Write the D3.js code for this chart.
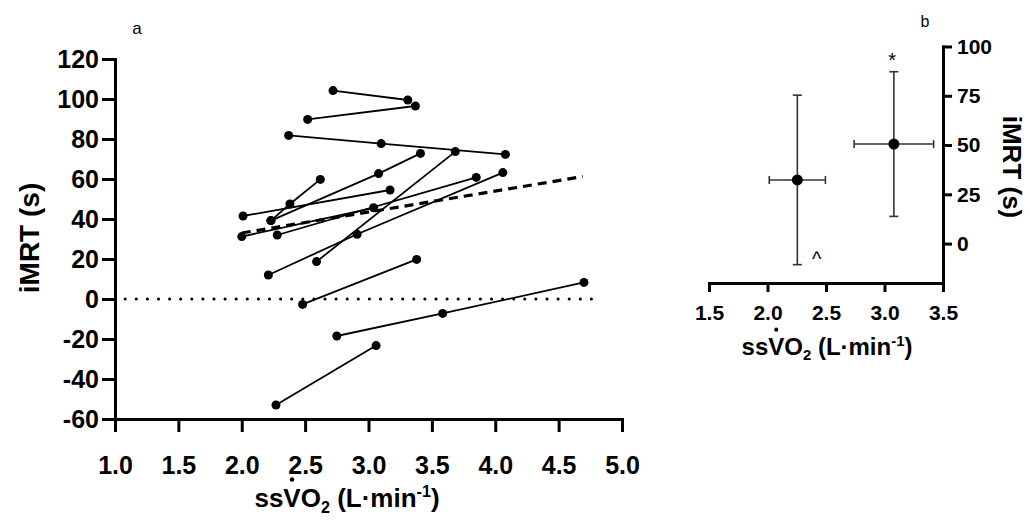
<!DOCTYPE html>
<html>
<head>
<meta charset="utf-8">
<script src="https://cdn.jsdelivr.net/npm/d3@7"></script>
<style>
  html, body { margin: 0; padding: 0; background: #fff; }
  svg { display: block; }
  text { font-family: "Liberation Sans", Arial, sans-serif; }
</style>
</head>
<body>
<script>
// ---------- Panel a: individual subjects (ssVO2 vs iMRT) ----------
const subjectVO2 = [
  [2.72, 3.31],
  [2.52, 3.37],
  [2.37, 3.10, 4.08],
  [2.59, 3.685],
  [2.01, 3.17],
  [2.23, 3.08, 3.41],
  [2.00, 3.04],
  [2.23, 2.38, 2.62],
  [2.28, 3.85],
  [2.21, 2.91, 4.06],
  [2.48, 3.38],
  [2.75, 3.585, 4.70],
  [2.27, 3.06]
];
const subjectIMRT = [
  [104.2, 99.5],
  [89.8, 96.5],
  [81.8, 77.7, 72.3],
  [18.7, 73.7],
  [41.5, 54.5],
  [39.2, 62.7, 72.8],
  [31.2, 45.6],
  [39.2, 47.5, 59.8],
  [32.0, 60.8],
  [12.0, 32.4, 63.2],
  [-2.7, 19.8],
  [-18.5, -7.2, 8.3],
  [-53.0, -23.3]
];
const regressionVO2 = [2.0, 4.69];
const regressionIMRT = [33.0, 61.2];
const zeroLineVO2 = [1.08, 4.78];
const xTicksA = [1.0, 1.5, 2.0, 2.5, 3.0, 3.5, 4.0, 4.5, 5.0];
const yTicksA = [-60, -40, -20, 0, 20, 40, 60, 80, 100, 120];

// ---------- Panel b: group mean ± SD ----------
const groupVO2 = [2.255, 3.08];
const groupVO2SD = [0.24, 0.34];
const groupIMRT = [32.3, 50.5];
const groupIMRTSD = [43.0, 36.7];
const markerSymbols = ["^", "*"];
const markerVO2 = [2.42, 3.065];
const markerIMRT = [-8, 93];
const xTicksB = [1.5, 2.0, 2.5, 3.0, 3.5];
const yTicksB = [0, 25, 50, 75, 100];

const W = 1030, H = 521;
const FONT = '"Liberation Sans", Arial, sans-serif';
const svg = d3.select("body").append("svg").attr("width", W).attr("height", H);
svg.append("rect").attr("width", W).attr("height", H).attr("fill", "#fff");

function styleAxis(g, fs) {
  g.select(".domain").attr("stroke", "#000").attr("stroke-width", 3).attr("stroke-linecap", "square");
  g.selectAll(".tick line").attr("stroke", "#000").attr("stroke-width", 3);
  g.selectAll(".tick text").attr("fill", "#000").attr("font-family", FONT)
    .attr("font-weight", "bold").attr("font-size", fs);
}
const intFmt = d => String(d);

// ===== Panel a =====
const xA = d3.scaleLinear().domain([1, 5]).range([115, 622]);
const yA = d3.scaleLinear().domain([-60, 120]).range([419, 59]);

const gxA = svg.append("g").attr("transform", `translate(0,${yA(-60)})`)
  .call(d3.axisBottom(xA).tickValues(xTicksA).tickFormat(d3.format(".1f"))
    .tickSize(13).tickSizeOuter(0).tickPadding(24));
styleAxis(gxA, 25);
const gyA = svg.append("g").attr("transform", `translate(${xA(1)},0)`)
  .call(d3.axisLeft(yA).tickValues(yTicksA).tickFormat(intFmt)
    .tickSize(13).tickSizeOuter(0).tickPadding(3));
styleAxis(gyA, 25);

// zero dotted line
svg.append("line")
  .attr("x1", xA(zeroLineVO2[0])).attr("x2", xA(zeroLineVO2[1]))
  .attr("y1", yA(0)).attr("y2", yA(0))
  .attr("stroke", "#000").attr("stroke-width", 3)
  .attr("stroke-dasharray", "0.1,11").attr("stroke-linecap", "round");

// regression dashed line
svg.append("line")
  .attr("x1", xA(regressionVO2[0])).attr("x2", xA(regressionVO2[1]))
  .attr("y1", yA(regressionIMRT[0])).attr("y2", yA(regressionIMRT[1]))
  .attr("stroke", "#000").attr("stroke-width", 3.2)
  .attr("stroke-dasharray", "9,6");

const lineGen = d3.line().x(d => xA(d[0])).y(d => yA(d[1]));
const subjects = subjectVO2.map((xs, i) => xs.map((x, j) => [x, subjectIMRT[i][j]]));
const gSub = svg.append("g");
gSub.selectAll("path").data(subjects).join("path")
  .attr("d", lineGen).attr("fill", "none").attr("stroke", "#000").attr("stroke-width", 1.8);
gSub.selectAll("circle").data(subjects.flat()).join("circle")
  .attr("cx", d => xA(d[0])).attr("cy", d => yA(d[1])).attr("r", 4.5).attr("fill", "#000");

// axis titles panel a
svg.append("text").attr("transform", "translate(29,238) rotate(-90)")
  .attr("text-anchor", "middle").attr("dominant-baseline", "central")
  .attr("font-family", FONT).attr("font-weight", "bold").attr("font-size", 28)
  .text("iMRT (s)");

function vo2Title(cx, baseline, fs) {
  const t = svg.append("text").attr("x", cx).attr("y", baseline)
    .attr("text-anchor", "middle").attr("font-family", FONT)
    .attr("font-weight", "bold").attr("font-size", fs).attr("fill", "#000");
  t.append("tspan").text("ssVO");
  t.append("tspan").attr("font-size", fs * 0.62).attr("dy", fs * 0.22).text("2");
  t.append("tspan").attr("dy", -fs * 0.22).text(" (L·min");
  t.append("tspan").attr("font-size", fs * 0.62).attr("dy", -fs * 0.38).text("-1");
  t.append("tspan").attr("dy", fs * 0.38).text(")");
  const ext = t.node().getExtentOfChar(2);
  svg.append("circle").attr("cx", ext.x + ext.width / 2)
    .attr("cy", baseline - fs * 0.716 - fs * 0.34).attr("r", fs * 0.085).attr("fill", "#000");
}
vo2Title(347, 507, 26);

svg.append("text").attr("x", 137).attr("y", 28).attr("text-anchor", "middle")
  .attr("dominant-baseline", "central").attr("font-family", FONT).attr("font-size", 17).text("a");

// ===== Panel b =====
const xB = d3.scaleLinear().domain([1.5, 3.5]).range([709, 943]);
const yB = d3.scaleLinear().domain([-20, 100]).range([283, 46.5]);

const gxB = svg.append("g").attr("transform", `translate(0,${yB(-20)})`)
  .call(d3.axisBottom(xB).tickValues(xTicksB).tickFormat(d3.format(".1f"))
    .tickSize(9).tickSizeOuter(0).tickPadding(13));
styleAxis(gxB, 21);
const gyB = svg.append("g").attr("transform", `translate(${xB(3.5)},0)`)
  .call(d3.axisRight(yB).tickValues(yTicksB).tickFormat(intFmt)
    .tickSize(9).tickSizeOuter(0).tickPadding(5));
styleAxis(gyB, 21);

const groups = groupVO2.map((x, i) => ({ x, y: groupIMRT[i], sx: groupVO2SD[i], sy: groupIMRTSD[i] }));
const gG = svg.append("g").attr("stroke", "#333").attr("stroke-width", 1.6).attr("fill", "none");
groups.forEach(d => {
  gG.append("line").attr("x1", xB(d.x)).attr("x2", xB(d.x)).attr("y1", yB(d.y - d.sy)).attr("y2", yB(d.y + d.sy));
  gG.append("line").attr("x1", xB(d.x) - 4.5).attr("x2", xB(d.x) + 4.5).attr("y1", yB(d.y + d.sy)).attr("y2", yB(d.y + d.sy));
  gG.append("line").attr("x1", xB(d.x) - 4.5).attr("x2", xB(d.x) + 4.5).attr("y1", yB(d.y - d.sy)).attr("y2", yB(d.y - d.sy));
  gG.append("line").attr("x1", xB(d.x - d.sx)).attr("x2", xB(d.x + d.sx)).attr("y1", yB(d.y)).attr("y2", yB(d.y));
  gG.append("line").attr("x1", xB(d.x - d.sx)).attr("x2", xB(d.x - d.sx)).attr("y1", yB(d.y) - 4).attr("y2", yB(d.y) + 4);
  gG.append("line").attr("x1", xB(d.x + d.sx)).attr("x2", xB(d.x + d.sx)).attr("y1", yB(d.y) - 4).attr("y2", yB(d.y) + 4);
});
svg.append("g").selectAll("circle").data(groups).join("circle")
  .attr("cx", d => xB(d.x)).attr("cy", d => yB(d.y)).attr("r", 5.5).attr("fill", "#000");

svg.append("g").selectAll("text").data(markerSymbols).join("text")
  .attr("x", (d, i) => xB(markerVO2[i])).attr("y", (d, i) => yB(markerIMRT[i]))
  .attr("text-anchor", "middle").attr("dominant-baseline", "central")
  .attr("font-family", FONT).attr("font-size", 20).text(d => d);

svg.append("text").attr("transform", "translate(1012,167) rotate(90)")
  .attr("text-anchor", "middle").attr("dominant-baseline", "central")
  .attr("font-family", FONT).attr("font-weight", "bold").attr("font-size", 26)
  .text("iMRT (s)");
vo2Title(827, 355, 24);

svg.append("text").attr("x", 925).attr("y", 21).attr("text-anchor", "middle")
  .attr("dominant-baseline", "central").attr("font-family", FONT).attr("font-size", 16).text("b");
</script>
</body>
</html>
